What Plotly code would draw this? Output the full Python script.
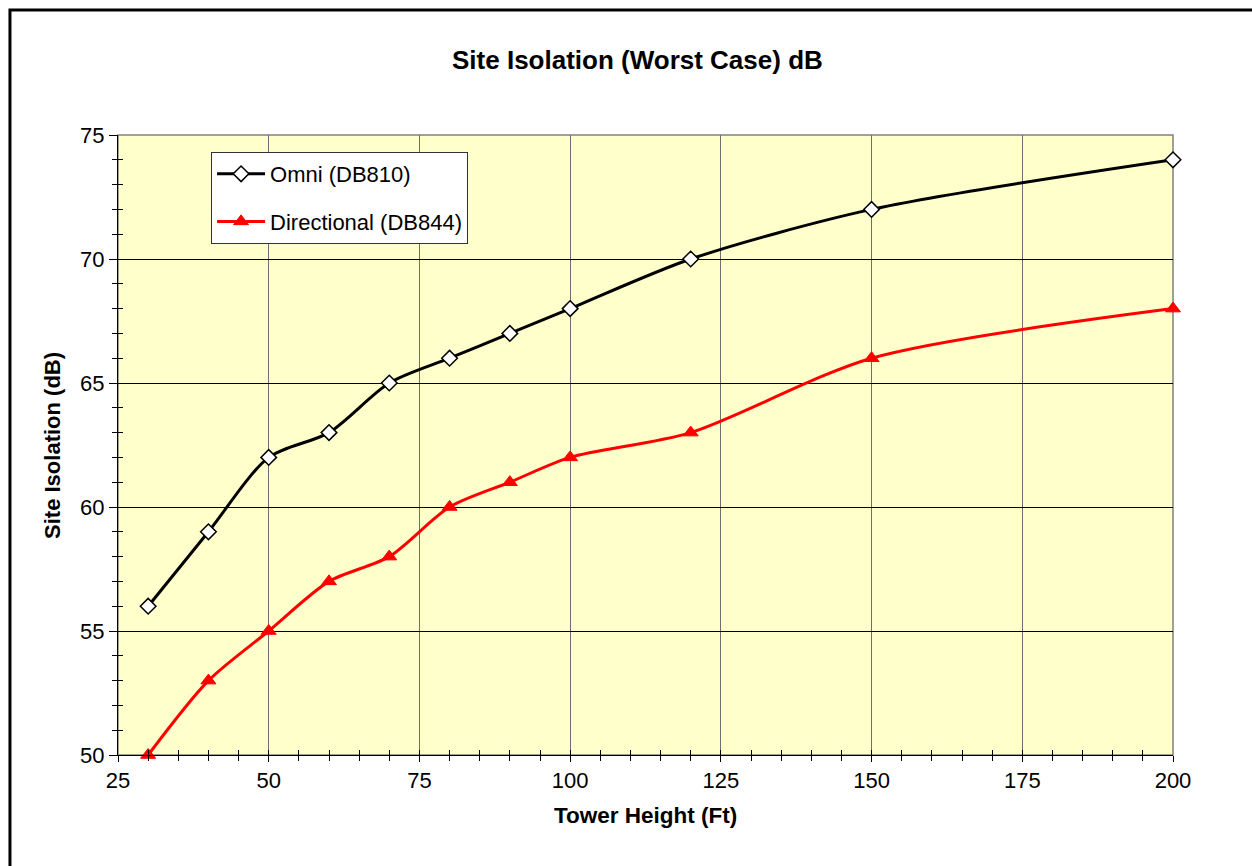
import plotly.graph_objects as go

# Tower height (ft) and worst-case site isolation (dB)
heights = [30, 40, 50, 60, 70, 80, 90, 100, 120, 150, 200]
omni_db810 = [56, 59, 62, 63, 65, 66, 67, 68, 70, 72, 74]
directional_db844 = [50, 53, 55, 57, 58, 60, 61, 62, 63, 66, 68]

x_ticks = [25, 50, 75, 100, 125, 150, 175, 200]
y_ticks = [50, 55, 60, 65, 70, 75]

FONT = "Liberation Sans, Arial, sans-serif"

fig = go.Figure()

fig.add_trace(go.Scatter(
    x=heights, y=omni_db810, name="Omni (DB810)",
    mode="lines+markers", line=dict(color="black", width=3, shape="spline", smoothing=0.8),
    marker=dict(symbol="diamond", size=12, color="white", line=dict(color="black", width=1.5)),
    cliponaxis=False, legendgroup="omni",
))
fig.add_trace(go.Scatter(
    x=heights, y=directional_db844, name="Directional (DB844)",
    mode="lines+markers", line=dict(color="#FF0000", width=3, shape="spline", smoothing=0.8),
    marker=dict(symbol="triangle-up", size=13, color="#FF0000", line=dict(color="#FF0000", width=1)),
    cliponaxis=False, legendgroup="dir",
))
# overlay axes carrying the inward half of the tick marks
fig.add_trace(go.Scatter(x=[None], y=[None], xaxis="x2", yaxis="y2",
                         showlegend=False, hoverinfo="skip"))

axis_common = dict(showline=True, linecolor="black", linewidth=1, zeroline=False,
                   tickfont=dict(family=FONT, size=22, color="black"))

fig.update_layout(
    width=1252, height=866,
    margin=dict(l=118, r=79, t=135, b=111),
    paper_bgcolor="white", plot_bgcolor="#FFFFCC",
    showlegend=True,
    xaxis=dict(range=[25, 200], tickvals=x_ticks, ticks="outside", ticklen=6, tickcolor="black",
               showgrid=True, gridcolor="#6F6F6F", gridwidth=1.3,
               minor=dict(dtick=5, tick0=25, ticks="outside", ticklen=5, tickcolor="black", showgrid=False),
               **axis_common),
    yaxis=dict(range=[50, 75], tickvals=y_ticks, ticks="outside", ticklen=8, tickcolor="black",
               showgrid=True, gridcolor="black", gridwidth=1,
               minor=dict(dtick=1, tick0=50, ticks="outside", ticklen=5, tickcolor="black", showgrid=False),
               **axis_common),
    xaxis2=dict(range=[25, 200], overlaying="x", showticklabels=False, showgrid=False, zeroline=False,
                tickvals=x_ticks, ticks="inside", ticklen=5, tickcolor="black", showline=False,
                minor=dict(dtick=5, tick0=25, ticks="inside", ticklen=5, tickcolor="black")),
    yaxis2=dict(range=[50, 75], overlaying="y", showticklabels=False, showgrid=False, zeroline=False,
                tickvals=y_ticks, ticks="inside", ticklen=5, tickcolor="black", showline=False,
                minor=dict(dtick=1, tick0=50, ticks="inside", ticklen=5, tickcolor="black")),
    legend=dict(x=0.0882, y=0.9726, xanchor="left", yanchor="top",
                bgcolor="white", bordercolor="#333333", borderwidth=1,
                font=dict(family=FONT, size=22, color="black"),
                itemwidth=48, tracegroupgap=16, traceorder="grouped", valign="middle"),
    shapes=[
        # grey frame on top and right of the plot area
        dict(type="rect", xref="paper", yref="paper", x0=0, x1=1, y0=0, y1=1,
             line=dict(color="#808080", width=1.5), layer="below"),
        # chart outer border
        dict(type="rect", xref="paper", yref="paper", x0=-0.1024, x1=1.09, y0=-0.21, y1=1.2016,
             line=dict(color="black", width=3)),
    ],
    annotations=[
        dict(text="<b>Site Isolation (Worst Case) dB</b>", xref="paper", yref="paper",
             x=0.492, y=1.121, showarrow=False, xanchor="center", yanchor="middle",
             font=dict(family=FONT, size=26, color="black")),
        dict(text="<b>Tower Height (Ft)</b>", xref="paper", yref="paper",
             x=0.5, y=-0.097, showarrow=False, xanchor="center", yanchor="middle",
             font=dict(family=FONT, size=22.5, color="black")),
        dict(text="<b>Site Isolation (dB)</b>", xref="paper", yref="paper",
             x=-0.0626, y=0.5, showarrow=False, xanchor="center", yanchor="middle", textangle=-90,
             font=dict(family=FONT, size=22, color="black")),
    ],
)

fig.write_html("out.html")
